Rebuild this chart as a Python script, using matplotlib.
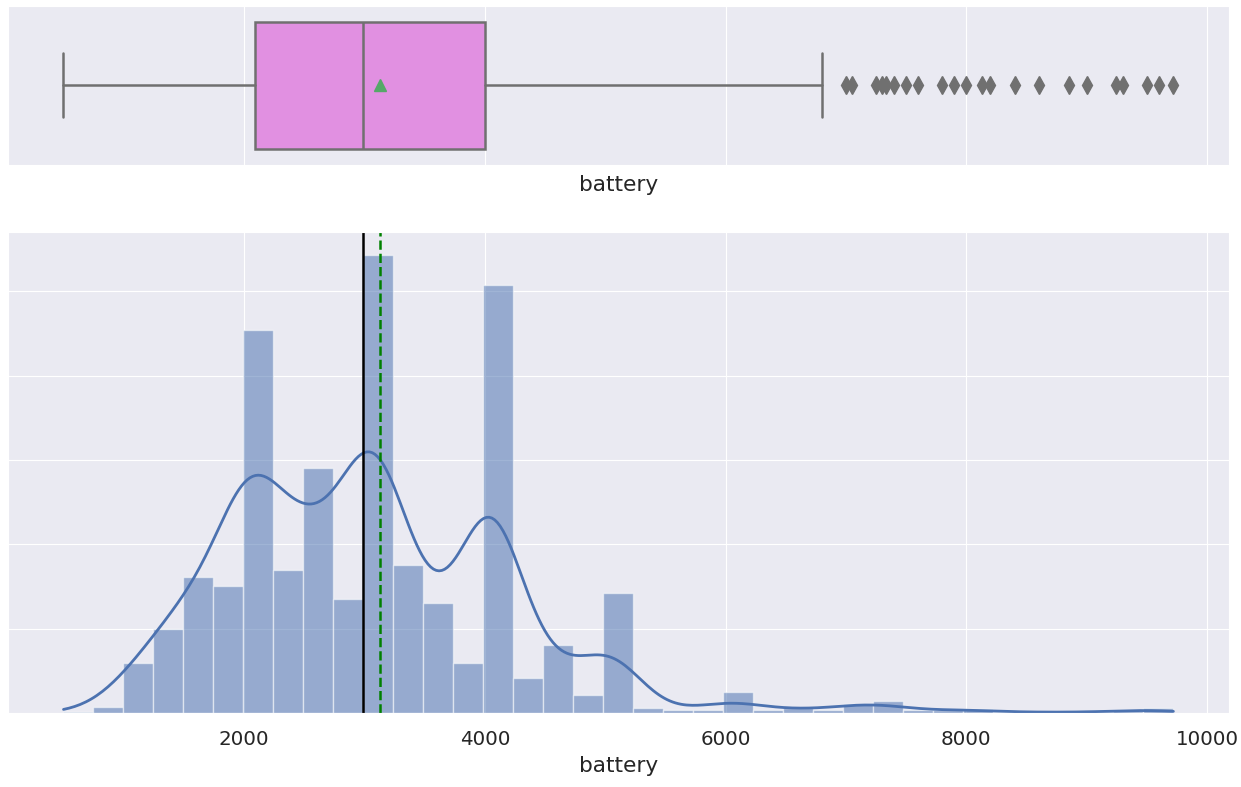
import numpy as np
import matplotlib
matplotlib.use("Agg")
import matplotlib.pyplot as plt
import seaborn as sns

# battery column summary
data_min = 500
data_max = 9720
n_bins = 37
bin_counts = [1, 7, 59, 99, 161, 151, 454, 170, 290, 135, 543, 176, 131, 59, 507,
              42, 81, 21, 142, 6, 3, 3, 25, 3, 6, 3, 11, 14, 3, 3, 5, 1, 1, 1, 1, 2, 6]

q1 = 2090
median = 2990
q3 = 4000
mean = 3130
whisker_low = 500
whisker_high = 6800
outliers = [7000, 7050, 7250, 7300, 7330, 7400, 7500, 7600, 7800, 7900, 8000,
            8130, 8200, 8400, 8600, 8850, 9000, 9240, 9300, 9500, 9600, 9720]

sns.set_style("darkgrid")
plt.rcParams["font.family"] = ["DejaVu Sans"]
plt.rcParams["xtick.labelsize"] = 14.3
plt.rcParams["axes.labelsize"] = 15.6
plt.rcParams["xtick.major.size"] = 0
plt.rcParams["xtick.major.pad"] = 12.5
plt.rcParams["text.color"] = ".15"
plt.rcParams["axes.labelcolor"] = ".15"
plt.rcParams["xtick.color"] = ".15"

fig = plt.figure(figsize=(12.41, 7.87), dpi=100)
ax_box = fig.add_axes([0.00645, 0.7903, 0.9838, 0.2025])
ax_hist = fig.add_axes([0.00645, 0.094, 0.9838, 0.6112], sharex=ax_box)

# boxplot
line_col = "#707070"
stats = [dict(med=median, q1=q1, q3=q3, whislo=whisker_low, whishi=whisker_high,
              mean=mean, fliers=outliers)]
ax_box.bxp(stats, positions=[0], widths=0.8, vert=False, patch_artist=True,
           showmeans=True,
           boxprops=dict(facecolor=sns.desaturate("violet", 0.75), edgecolor=line_col, linewidth=1.8),
           medianprops=dict(color=line_col, linewidth=1.8),
           whiskerprops=dict(color=line_col, linewidth=1.8),
           capprops=dict(color=line_col, linewidth=1.8),
           flierprops=dict(marker="d", markerfacecolor=line_col, markeredgecolor=line_col,
                           markersize=9),
           meanprops=dict(marker="^", markerfacecolor="#55A868", markeredgecolor="#55A868",
                          markersize=8))
ax_box.set_ylim(0.5, -0.5)
ax_box.set_yticks([])
ax_box.set_xlabel("battery", labelpad=7)
ax_box.tick_params(axis="x", labelbottom=False)

# histogram
edges = np.linspace(data_min, data_max, n_bins + 1)
centers = (edges[:-1] + edges[1:]) / 2
counts = np.array(bin_counts, dtype=float)
ax_hist.hist(centers, bins=edges, weights=counts, color="#4C72B0", alpha=0.53,
             edgecolor="white", linewidth=1)

# kde over the binned values (most phones sit at the round value near each bin's left edge)
binw = edges[1] - edges[0]
reps = edges[:-1] + binw * 0.25
total = counts.sum()
w = counts / total
mu = np.sum(w * reps)
sd = np.sqrt(np.sum(w * (reps - mu) ** 2))
bw = sd * total ** (-0.2) * 1.1
grid = np.linspace(data_min, data_max, 400)
dens = (w[None, :] * np.exp(-0.5 * ((grid[:, None] - reps[None, :]) / bw) ** 2)).sum(axis=1)
dens = dens / (bw * np.sqrt(2 * np.pi))
ax_hist.plot(grid, dens * total * binw, color="#4C72B0", linewidth=2)

ax_hist.axvline(median, color="black", linewidth=1.8)
ax_hist.axvline(mean, color="green", linestyle="--", linewidth=1.8)
ax_hist.set_yticks([100, 200, 300, 400, 500])
ax_hist.tick_params(axis="y", labelleft=False, left=False)
ax_hist.set_xticks([2000, 4000, 6000, 8000, 10000])
ax_hist.set_xlabel("battery", labelpad=5)
ax_hist.margins(x=0.05)

fig.savefig("out.png", dpi=100)
